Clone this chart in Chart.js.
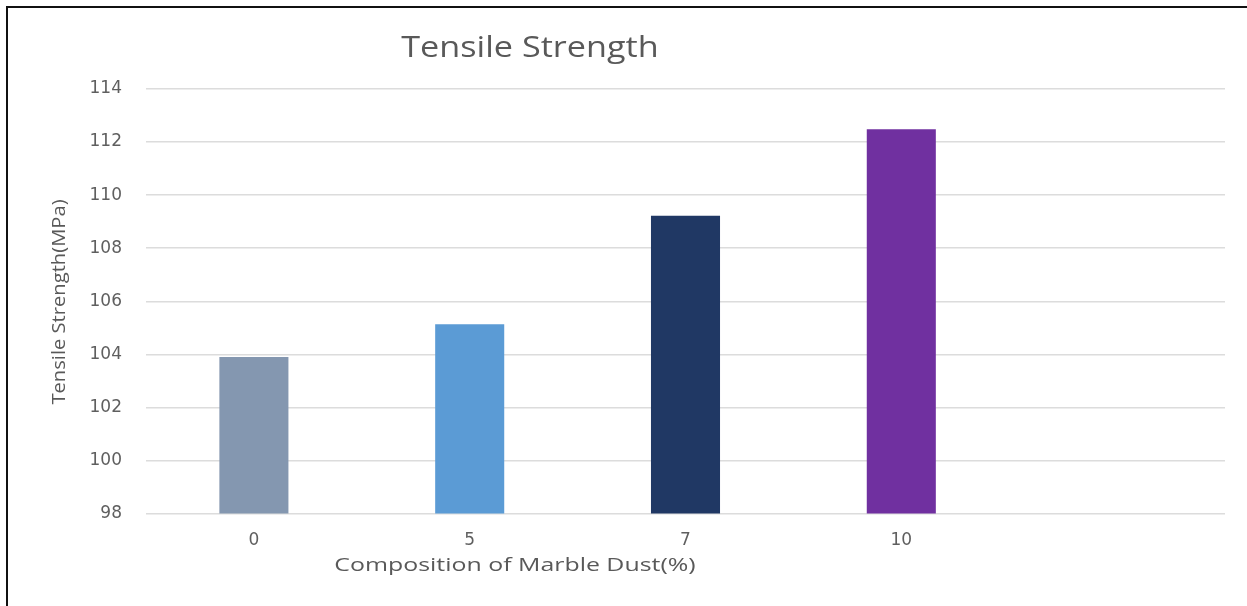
<!DOCTYPE html>
<html>
<head>
<meta charset="utf-8">
<title>Tensile Strength</title>
<script src="https://cdn.jsdelivr.net/npm/chart.js@4/dist/chart.umd.min.js"></script>
<style>
  html, body { margin: 0; padding: 0; background: #fff; }
  #wrap { position: relative; width: 1247px; height: 606px; overflow: hidden; }
  #frame { position: absolute; left: 6px; top: 6px; width: 1300px; height: 700px;
           border-top: 2px solid #111; border-left: 2px solid #111; box-sizing: border-box; }
  #c { position: absolute; left: 0; top: 0; }
</style>
</head>
<body>
<div id="wrap">
  <div id="frame"></div>
  <canvas id="c" width="1247" height="606"></canvas>
</div>
<script>
// Marble dust content (%) and measured tensile strength (MPa)
const categories = ['0', '5', '7', '10', ''];
const tensileStrength = [103.9, 105.13, 109.22, 112.48, null];
const barColors = ['#8497B0', '#5B9BD5', '#203864', '#7030A0', '#7030A0'];
const yTicks = [98, 100, 102, 104, 106, 108, 110, 112, 114];

const chartTitle = 'Tensile Strength';
const xTitle = 'Composition of Marble Dust(%)';
const yTitle = 'Tensile Strength(MPa)';

const textColor = '#595959';
const tickColor = '#5f5f5f';

// Draws one caption with a slight horizontal widening of the glyphs
function caption(ctx, text, x, y, font, stretch, angle) {
  ctx.save();
  ctx.translate(x, y);
  if (angle) ctx.rotate(angle);
  ctx.scale(stretch, 1);
  ctx.font = font;
  ctx.fillText(text, 0, 0);
  ctx.restore();
}

// Title and axis captions are placed freely, as in the original sheet layout
const captions = {
  id: 'captions',
  afterDraw(chart) {
    const ctx = chart.ctx;
    ctx.save();
    ctx.fillStyle = textColor;
    ctx.textAlign = 'center';
    ctx.textBaseline = 'middle';
    caption(ctx, chartTitle, 530, 48, '30px "Open Sans"', 1.14, 0);
    caption(ctx, xTitle, 515, 566, '19px "Open Sans"', 1.31, 0);
    caption(ctx, yTitle, 60, 302, '500 18px "Open Sans"', 1.12, -Math.PI / 2);
    ctx.restore();
  }
};

new Chart(document.getElementById('c'), {
  type: 'bar',
  data: {
    labels: categories,
    datasets: [{
      data: tensileStrength,
      backgroundColor: barColors,
      borderWidth: 0,
      categoryPercentage: 1.0,
      barPercentage: 0.32
    }]
  },
  options: {
    responsive: false,
    animation: false,
    devicePixelRatio: 1,
    layout: { padding: { top: 89, right: 22, left: 0, bottom: 0 } },
    plugins: {
      legend: { display: false },
      title: { display: false },
      tooltip: { enabled: false }
    },
    scales: {
      x: {
        grid: { display: false, drawTicks: false },
        border: { display: false },
        ticks: {
          color: tickColor,
          font: { family: 'DejaVu Sans', size: 17 },
          padding: 17,
          maxRotation: 0
        },
        afterFit(scale) { scale.height = 92.5; }
      },
      y: {
        min: yTicks[0],
        max: yTicks[yTicks.length - 1],
        afterBuildTicks(scale) { scale.ticks = yTicks.map(v => ({ value: v })); },
        grid: { color: '#dcdcdc', lineWidth: 1.5, drawTicks: false },
        border: { display: false },
        ticks: {
          color: tickColor,
          font: { family: 'DejaVu Sans', size: 17 },
          padding: 24
        },
        afterFit(scale) { scale.width = 146; }
      }
    }
  },
  plugins: [captions]
});
</script>
</body>
</html>
